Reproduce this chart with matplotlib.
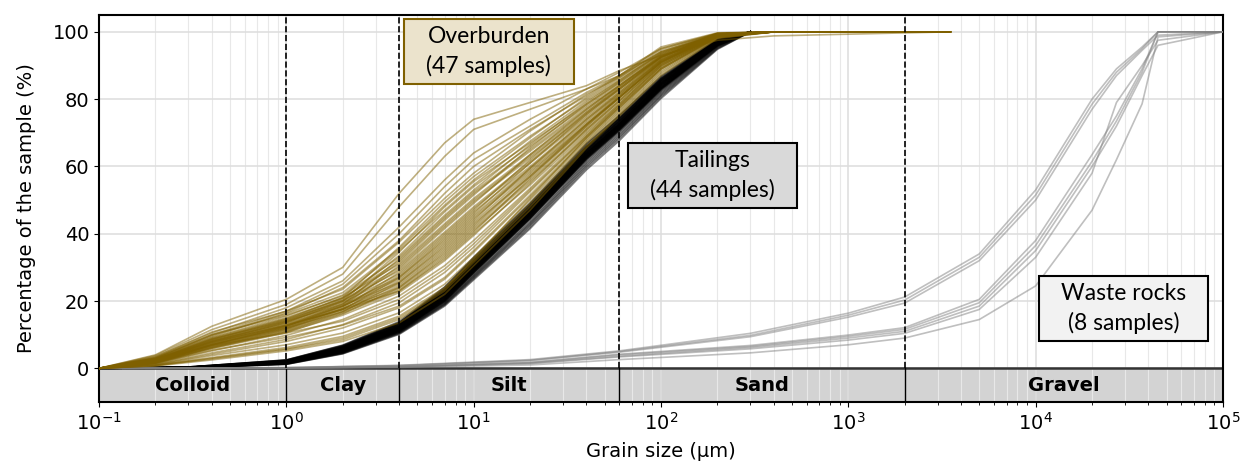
import matplotlib.pyplot as plt
from matplotlib.patches import Rectangle

# particle size distributions, cumulative % passing
overburden_sizes = [0.1, 0.2, 0.4, 1, 2, 4, 7, 10, 20, 40, 60, 100, 200, 400, 3500]
overburden_pct = [
    [0, 4.0, 12.5, 20.5, 30.0, 52.0, 67.0, 74.0, 79.0, 84.0, 88.5, 93.0, 97.5, 98.8, 100],
    [0, 3.8, 11.5, 19.0, 28.0, 48.0, 63.0, 71.0, 77.0, 83.0, 87.0, 94.0, 99.0, 100, 100],
    [0, 3.5, 10.5, 18.0, 26.0, 42.0, 56.0, 64.0, 74.0, 83.0, 88.0, 95.0, 99.5, 100, 100],
    [0, 3.2, 10.0, 17.0, 25.0, 40.0, 54.0, 62.0, 72.0, 82.0, 87.0, 95.0, 99.6, 100, 100],
    [0, 3.0, 9.5, 16.5, 24.0, 38.0, 52.0, 60.0, 71.0, 81.0, 87.0, 95.5, 99.7, 100, 100],
    [0, 3.4, 10.8, 17.0, 23.5, 37.5, 50.5, 58.0, 70.5, 81.5, 86.5, 94.0, 99.4, 100, 100],
    [0, 2.6, 8.5, 14.5, 21.0, 36.0, 49.5, 57.0, 69.0, 80.0, 86.0, 93.5, 99.3, 100, 100],
    [0, 3.0, 9.8, 16.2, 22.5, 35.5, 48.5, 56.0, 68.5, 80.5, 86.5, 94.5, 99.5, 100, 100],
    [0, 2.2, 7.5, 13.5, 20.0, 34.5, 48.0, 55.5, 67.0, 78.5, 85.0, 93.0, 99.2, 100, 100],
    [0, 2.9, 9.2, 15.5, 21.8, 35.0, 47.0, 54.5, 67.5, 79.5, 85.5, 93.5, 99.4, 100, 100],
    [0, 2.4, 8.0, 14.0, 20.5, 33.5, 46.5, 54.0, 66.0, 78.0, 84.5, 92.5, 99.1, 100, 100],
    [0, 3.1, 10.0, 15.8, 21.5, 33.0, 45.5, 53.0, 66.5, 79.0, 85.5, 94.0, 99.5, 100, 100],
    [0, 2.0, 7.0, 12.5, 19.0, 32.5, 45.0, 52.5, 65.0, 77.5, 84.0, 92.5, 99.2, 100, 100],
    [0, 2.7, 8.8, 14.8, 20.8, 32.0, 44.5, 52.0, 64.5, 77.0, 84.0, 93.0, 99.3, 100, 100],
    [0, 2.3, 7.8, 13.8, 19.8, 31.5, 44.0, 51.5, 65.5, 78.5, 85.0, 93.5, 99.4, 100, 100],
    [0, 2.8, 9.0, 15.0, 21.0, 31.0, 43.0, 50.5, 63.5, 76.5, 83.5, 92.5, 99.2, 100, 100],
    [0, 1.9, 6.8, 12.2, 18.5, 30.5, 42.5, 50.0, 63.0, 76.0, 83.0, 92.0, 99.0, 100, 100],
    [0, 2.5, 8.3, 14.2, 20.2, 30.0, 42.0, 49.5, 62.5, 75.5, 83.0, 92.5, 99.2, 100, 100],
    [0, 2.1, 7.3, 13.0, 19.2, 29.5, 41.5, 49.0, 63.5, 77.0, 84.0, 93.0, 99.3, 100, 100],
    [0, 2.6, 8.6, 14.5, 20.0, 29.0, 40.5, 48.0, 61.5, 75.0, 82.5, 92.0, 99.1, 100, 100],
    [0, 1.8, 6.5, 11.8, 18.0, 28.5, 40.0, 47.5, 61.0, 74.5, 82.0, 91.5, 99.0, 100, 100],
    [0, 2.4, 8.1, 13.6, 19.5, 28.0, 39.5, 47.0, 62.0, 76.0, 83.5, 92.5, 99.3, 100, 100],
    [0, 2.0, 7.0, 12.6, 18.4, 27.5, 39.0, 46.5, 60.0, 74.0, 81.5, 91.5, 99.0, 100, 100],
    [0, 2.7, 8.7, 14.0, 19.0, 27.0, 38.0, 45.5, 59.5, 73.5, 81.5, 91.5, 99.0, 100, 100],
    [0, 1.7, 6.2, 11.5, 17.5, 27.0, 38.5, 46.0, 61.0, 75.5, 83.0, 92.5, 99.3, 100, 100],
    [0, 2.2, 7.6, 12.8, 18.5, 26.5, 37.5, 45.0, 59.0, 73.0, 81.0, 91.0, 98.9, 100, 100],
    [0, 1.9, 6.9, 12.0, 17.6, 26.0, 37.0, 44.5, 58.5, 72.5, 80.5, 91.0, 98.9, 100, 100],
    [0, 2.5, 8.2, 13.3, 18.6, 25.5, 36.0, 43.5, 58.0, 72.5, 80.5, 91.0, 99.0, 100, 100],
    [0, 1.6, 6.0, 11.0, 16.8, 25.5, 36.5, 44.0, 59.5, 74.0, 82.0, 92.0, 99.2, 100, 100],
    [0, 2.1, 7.2, 12.4, 17.8, 25.0, 35.5, 43.0, 57.0, 71.5, 80.0, 90.5, 98.8, 100, 100],
    [0, 1.8, 6.6, 11.6, 17.0, 24.5, 35.0, 42.5, 57.5, 72.0, 80.5, 91.0, 99.0, 100, 100],
    [0, 2.3, 7.7, 12.7, 17.6, 24.0, 34.0, 41.5, 56.0, 71.0, 79.5, 90.5, 98.8, 100, 100],
    [0, 1.5, 5.8, 10.6, 16.2, 24.0, 34.5, 42.0, 57.0, 72.5, 81.0, 91.5, 99.1, 100, 100],
    [0, 2.0, 7.1, 12.0, 16.8, 23.5, 33.5, 41.0, 55.5, 70.5, 79.0, 90.0, 98.7, 100, 100],
    [0, 1.7, 6.3, 11.2, 16.4, 23.0, 33.0, 40.5, 56.5, 72.0, 80.5, 91.0, 99.0, 100, 100],
    [0, 2.4, 7.9, 12.9, 17.4, 23.0, 32.5, 40.0, 54.5, 70.0, 78.5, 90.0, 98.7, 100, 100],
    [0, 1.6, 6.1, 10.8, 15.8, 22.5, 32.0, 39.5, 55.0, 71.0, 79.5, 90.5, 98.9, 100, 100],
    [0, 1.4, 5.2, 9.8, 14.5, 21.5, 30.5, 38.0, 53.5, 69.5, 78.5, 90.0, 98.7, 100, 100],
    [0, 2.0, 6.8, 10.5, 14.0, 20.5, 29.5, 37.0, 53.0, 69.0, 78.0, 89.5, 98.6, 100, 100],
    [0, 1.2, 4.6, 8.6, 13.0, 19.5, 28.5, 36.0, 52.5, 69.0, 78.0, 89.5, 98.6, 100, 100],
    [0, 1.5, 5.4, 9.2, 12.8, 18.5, 27.0, 35.0, 51.5, 68.5, 77.5, 89.0, 98.5, 100, 100],
    [0, 1.1, 4.2, 8.0, 12.0, 18.0, 26.5, 34.5, 51.0, 68.0, 77.0, 89.0, 98.5, 100, 100],
    [0, 1.0, 3.8, 7.0, 10.5, 16.5, 25.0, 33.0, 50.0, 67.5, 76.5, 88.5, 98.4, 100, 100],
    [0, 0.9, 3.2, 6.2, 9.5, 15.5, 24.0, 32.0, 49.0, 67.0, 76.0, 88.0, 98.3, 100, 100],
    [0, 0.8, 2.8, 5.6, 8.5, 14.5, 23.0, 31.5, 48.0, 66.0, 75.5, 87.5, 98.2, 100, 100],
    [0, 0.9, 3.0, 5.8, 9.0, 15.0, 23.5, 32.5, 50.5, 68.5, 77.5, 89.0, 98.5, 100, 100],
    [0, 0.7, 2.5, 5.2, 8.0, 13.5, 22.0, 30.5, 47.0, 65.5, 75.0, 87.0, 98.0, 100, 100],
]

tailings_sizes = [0.1, 0.3, 1, 2, 4, 7, 10, 20, 40, 60, 100, 200, 300]
tailings_pct = [
    [0, 0.4, 2.5, 6.9, 13.9, 24.2, 33.0, 49.2, 66.8, 75.2, 86.8, 97.9, 100],
    [0, 0.3, 2.2, 6.3, 13.4, 24.0, 32.8, 48.9, 66.0, 74.4, 86.0, 97.5, 100],
    [0, 0.4, 2.4, 6.7, 13.5, 23.6, 32.3, 48.7, 66.5, 75.0, 86.5, 97.8, 100],
    [0, 0.3, 2.3, 6.5, 13.2, 23.5, 32.4, 48.4, 65.8, 74.2, 85.9, 97.4, 100],
    [0, 0.4, 2.5, 6.8, 13.6, 23.4, 31.9, 48.0, 65.9, 74.5, 86.2, 97.6, 100],
    [0, 0.3, 2.1, 6.2, 13.0, 23.3, 32.0, 48.2, 65.6, 73.9, 85.6, 97.3, 100],
    [0, 0.3, 2.3, 6.4, 13.1, 23.0, 31.6, 47.9, 65.7, 74.3, 86.1, 97.6, 100],
    [0, 0.3, 2.2, 6.3, 12.9, 22.9, 31.7, 47.8, 65.2, 73.6, 85.4, 97.2, 100],
    [0, 0.3, 2.0, 6.0, 12.7, 22.9, 31.5, 47.6, 65.3, 74.0, 85.8, 97.5, 100],
    [0, 0.4, 2.4, 6.6, 13.3, 22.8, 31.2, 47.3, 64.9, 73.5, 85.5, 97.3, 100],
    [0, 0.3, 2.1, 6.1, 12.8, 22.6, 31.3, 47.5, 65.0, 73.4, 85.2, 97.1, 100],
    [0, 0.3, 2.2, 6.2, 12.6, 22.5, 31.0, 47.1, 64.8, 73.6, 85.6, 97.4, 100],
    [0, 0.2, 1.9, 5.8, 12.4, 22.4, 31.1, 47.2, 64.6, 73.0, 84.9, 97.0, 100],
    [0, 0.3, 2.1, 6.0, 12.5, 22.3, 30.8, 46.9, 64.7, 73.3, 85.3, 97.3, 100],
    [0, 0.3, 2.0, 5.9, 12.3, 22.1, 30.7, 46.8, 64.4, 72.9, 84.8, 96.9, 100],
    [0, 0.3, 2.2, 6.1, 12.5, 22.0, 30.5, 46.6, 64.3, 73.0, 85.0, 97.1, 100],
    [0, 0.2, 1.8, 5.6, 12.0, 21.9, 30.6, 46.7, 64.2, 72.6, 84.5, 96.8, 100],
    [0, 0.3, 2.0, 5.9, 12.2, 21.8, 30.3, 46.4, 64.1, 72.8, 84.9, 97.0, 100],
    [0, 0.2, 1.9, 5.7, 12.1, 21.7, 30.2, 46.5, 64.0, 72.5, 84.4, 96.7, 100],
    [0, 0.3, 2.1, 6.0, 12.3, 21.6, 30.0, 46.2, 63.8, 72.6, 84.7, 96.9, 100],
    [0, 0.2, 1.8, 5.5, 11.9, 21.5, 30.1, 46.3, 63.9, 72.3, 84.2, 96.6, 100],
    [0, 0.2, 1.9, 5.7, 12.0, 21.4, 29.8, 46.0, 63.6, 72.4, 84.5, 96.8, 100],
    [0, 0.2, 1.7, 5.4, 11.8, 21.3, 29.9, 46.1, 63.7, 72.1, 84.0, 96.5, 100],
    [0, 0.2, 1.8, 5.6, 11.9, 21.2, 29.6, 45.8, 63.4, 72.2, 84.3, 96.7, 100],
    [0, 0.2, 1.7, 5.3, 11.6, 21.1, 29.7, 45.9, 63.5, 71.9, 83.8, 96.4, 100],
    [0, 0.2, 1.9, 5.6, 11.8, 21.0, 29.4, 45.6, 63.2, 72.0, 84.1, 96.6, 100],
    [0, 0.2, 1.6, 5.2, 11.5, 20.9, 29.5, 45.7, 63.3, 71.7, 83.6, 96.3, 100],
    [0, 0.2, 1.7, 5.4, 11.6, 20.8, 29.2, 45.4, 63.0, 71.8, 83.9, 96.5, 100],
    [0, 0.2, 1.6, 5.1, 11.3, 20.7, 29.3, 45.5, 63.1, 71.5, 83.4, 96.2, 100],
    [0, 0.2, 1.8, 5.4, 11.5, 20.6, 29.0, 45.2, 62.8, 71.6, 83.7, 96.4, 100],
    [0, 0.2, 1.6, 5.2, 11.4, 20.5, 29.1, 45.3, 62.9, 71.4, 83.3, 96.1, 100],
    [0, 0.2, 1.5, 5.0, 11.2, 20.4, 28.9, 45.0, 62.6, 71.2, 83.2, 96.1, 100],
    [0, 0.2, 1.7, 5.3, 11.4, 20.3, 28.7, 44.9, 62.7, 71.3, 83.4, 96.3, 100],
    [0, 0.2, 1.5, 4.9, 11.1, 20.2, 28.8, 44.8, 62.4, 71.0, 83.0, 96.0, 100],
    [0, 0.2, 1.6, 5.1, 11.2, 20.0, 28.5, 44.6, 62.5, 71.1, 83.1, 96.1, 100],
    [0, 0.2, 1.5, 4.9, 11.0, 20.1, 28.6, 44.7, 62.2, 70.8, 82.8, 95.9, 100],
    [0, 0.2, 1.6, 5.0, 11.1, 19.9, 28.3, 44.4, 62.3, 70.9, 83.0, 96.0, 100],
    [0, 0.2, 1.4, 4.8, 10.9, 19.8, 28.4, 44.5, 62.0, 70.6, 82.6, 95.8, 100],
    [0, 0.2, 1.4, 4.7, 10.8, 19.6, 27.9, 43.8, 61.6, 70.3, 82.3, 95.7, 100],
    [0, 0.2, 1.4, 4.7, 10.7, 19.4, 27.6, 43.3, 61.1, 69.8, 81.9, 95.6, 100],
    [0, 0.2, 1.3, 4.6, 10.6, 19.2, 27.3, 42.9, 60.6, 69.3, 81.5, 95.4, 100],
    [0, 0.1, 1.3, 4.5, 10.5, 19.0, 27.0, 42.5, 60.1, 68.8, 81.1, 95.2, 100],
    [0, 0.1, 1.2, 4.4, 10.3, 18.8, 26.7, 42.0, 59.6, 68.3, 80.7, 95.0, 100],
    [0, 0.1, 1.2, 4.3, 10.1, 18.5, 26.3, 41.5, 59.0, 67.7, 80.2, 94.8, 100],
]

waste_sizes = [0.1, 1, 4, 20, 60, 300, 1000, 2000, 5000, 10000, 20000, 27000, 37000, 45000, 100000]
waste_pct = [
    [0, 0.2, 0.9, 2.6, 5.2, 10.4, 16.4, 21.2, 34.0, 53.0, 80.0, 89.0, 95.5, 100, 100],
    [0, 0.2, 0.8, 2.4, 5.0, 9.8, 15.8, 20.3, 33.0, 51.5, 78.5, 88.0, 95.0, 100, 100],
    [0, 0.2, 0.8, 2.3, 4.8, 9.4, 15.2, 19.4, 32.0, 50.0, 77.0, 87.0, 94.5, 99.0, 100],
    [0, 0.1, 0.5, 1.8, 4.2, 6.8, 9.9, 12.1, 20.5, 38.0, 63.5, 75.0, 89.0, 100, 100],
    [0, 0.1, 0.5, 1.7, 4.0, 6.5, 9.5, 11.6, 19.5, 36.5, 61.5, 73.5, 88.0, 100, 100],
    [0, 0.1, 0.4, 1.5, 3.6, 6.2, 9.0, 11.0, 18.5, 35.0, 60.0, 72.0, 87.0, 96.0, 100],
    [0, 0.1, 0.4, 1.4, 3.4, 5.8, 8.4, 10.4, 17.5, 33.0, 58.0, 79.0, 90.0, 97.5, 100],
    [0, 0.1, 0.3, 1.0, 2.6, 4.6, 7.0, 9.0, 14.5, 24.5, 47.0, 62.0, 78.6, 98.5, 100],
]

class_bounds = [0.1, 1, 4, 60, 2000, 100000]
class_names = ['Colloid', 'Clay', 'Silt', 'Sand', 'Gravel']

olive = '#7f6000'

plt.rcParams['font.size'] = 14
fig = plt.figure(figsize=(12.44, 4.65), dpi=100)
ax = fig.add_axes([0.0796, 0.1355, 0.9035, 0.8322])

for row in tailings_pct:
    ax.plot(tailings_sizes, row, color='black', alpha=0.5, lw=1.2, zorder=3)
for row in overburden_pct:
    ax.plot(overburden_sizes, row, color=olive, alpha=0.5, lw=1.2, zorder=4)
for row in waste_pct:
    ax.plot(waste_sizes, row, color='gray', alpha=0.5, lw=1.2, zorder=3)

# size classes along the bottom
ax.axhspan(-10, 0, facecolor='#d3d3d3', edgecolor='none', zorder=0.2)
ax.axhline(0, color='#333333', lw=1.8, zorder=2)
for b in class_bounds[1:-1]:
    ax.plot([b, b], [0, 105], color='black', ls='--', lw=1.2, zorder=5)
    ax.plot([b, b], [-10, 0], color='black', lw=1.0, zorder=2)
for lo, hi, name in zip(class_bounds[:-1], class_bounds[1:], class_names):
    ax.text((lo * hi) ** 0.5, -5, name, ha='center', va='center',
            fontweight='bold', fontsize=14, zorder=6)

ax.set_xscale('log')
ax.set_xlim(0.1, 1e5)
ax.set_ylim(-10, 105)
ax.set_yticks([0, 20, 40, 60, 80, 100])
ax.set_axisbelow(True)
ax.grid(which='major', color='#dddddd', lw=1.1)
ax.grid(which='minor', axis='x', color='#e8e8e8', lw=0.8)
for s in ax.spines.values():
    s.set_linewidth(1.5)
ax.set_xlabel('Grain size (µm)', fontsize=14, labelpad=6)
ax.set_ylabel('Percentage of the sample (%)', fontsize=14, labelpad=12)

# group labels
boxes = [
    ((0.2714, 0.8217), 'Overburden\n(47 samples)', '#ebe3cc', olive),
    ((0.4706, 0.5013), 'Tailings\n(44 samples)', '#d9d9d9', 'black'),
    ((0.8363, 0.1576), 'Waste rocks\n(8 samples)', '#f2f2f2', 'black'),
]
bw, bh = 0.1508, 0.1680
for (x0, y0), label, fc, ec in boxes:
    ax.add_patch(Rectangle((x0, y0), bw, bh, transform=ax.transAxes,
                           facecolor=fc, edgecolor=ec, lw=1.5, zorder=7))
    ax.text(x0 + bw / 2, y0 + bh / 2, label, transform=ax.transAxes,
            ha='center', va='center', family='Lato', fontsize=16.5,
            linespacing=1.4, zorder=8)

fig.savefig('out.png', dpi=100)
